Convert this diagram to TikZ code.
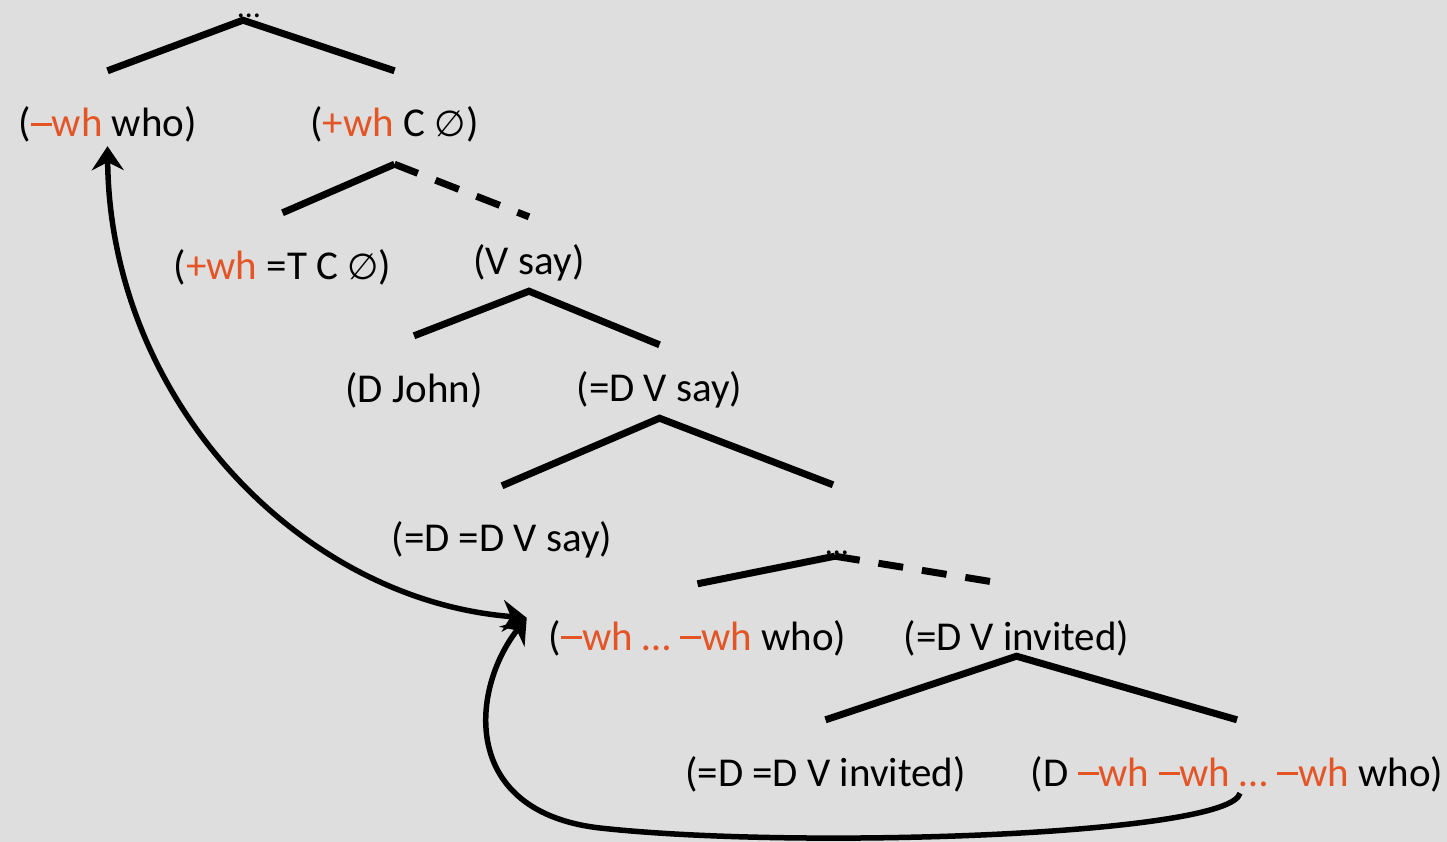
\documentclass[tikz,border=0pt]{standalone}
\usepackage{fontspec}
\setmainfont{Carlito}
\newfontfamily\emptyfam{DejaVu Sans}
\usetikzlibrary{arrows.meta}
\definecolor{whred}{RGB}{228,85,38}
\definecolor{slidebg}{RGB}{222,222,222}
\newcommand{\wh}[1]{\textcolor{whred}{#1}}
\newcommand{\mn}{\rule[11pt]{21pt}{2.6pt}}
\newcommand{\nul}{{\emptyfam\fontsize{36}{40}\selectfont ∅}}

\begin{document}
\begin{tikzpicture}[x=1pt, y=-1pt,
  every node/.style={inner sep=0pt, anchor=base, text height=30pt, text depth=9pt,
    font=\fontsize{41}{48}\selectfont},
  dots/.style={text height=8pt, text depth=0pt, font=\fontsize{32}{36}\selectfont},
  branch/.style={line width=7pt},
  dashbranch/.style={line width=7pt, dash pattern=on 25pt off 19pt},
  move/.style={line width=5.5pt},
  mv/.tip={Stealth[length=24pt,width=32pt,inset=8pt]}]
% background
\useasboundingbox (0,0) rectangle (1447,842);
\fill[slidebg] (0,0) rectangle (1447,842);
% nodes
\node[dots] (dots1) at (249,18) {…};
\node (who1) at (107.5,137) {(\wh{\mn wh} who)};
\node (cwh) at (394.5,137) {(\wh{+wh} C \nul)};
\node (cT) at (282.5,279) {(\wh{+wh} =T C \nul)};
\node (vsay) at (529,274) {(V say)};
\node (john) at (414,402) {(D John)};
\node (dvsay) at (659.5,401) {(=D V say)};
\node (ddvsay) at (502,551) {(=D =D V say)};
\node[dots] (dots2) at (837,554) {…};
\node (whwho) at (697.5,650) {(\wh{\mn wh … \mn wh} who)};
\node (dvinv) at (1016.5,650) {(=D V invited)};
\node (ddvinv) at (825.5,786) {(=D =D V invited)};
\node (dwhwho) at (1237,786) {(D \wh{\mn wh \mn wh … \mn wh} who)};
% branches
\draw[branch] ([yshift=36pt]who1.north) -- ([xshift=-6pt,yshift=-2pt]dots1.south) -- ([yshift=36pt]cwh.north);
\draw[branch] ([yshift=36pt]cT.north) -- ([yshift=-18pt]cwh.south);
\draw[dashbranch] ([yshift=-18pt]cwh.south) -- ([yshift=27pt]vsay.north);
\draw[branch] ([yshift=36pt]john.north) -- ([yshift=-8pt]vsay.south) -- ([yshift=26pt]dvsay.north);
\draw[branch] ([yshift=35pt]ddvsay.north) -- ([yshift=-8pt]dvsay.south) -- ([xshift=-4pt,yshift=61pt]dots2.north);
\draw[branch] ([yshift=36pt]whwho.north) -- ([xshift=-2pt,yshift=-2pt]dots2.south);
\draw[dashbranch] ([xshift=-2pt,yshift=-2pt]dots2.south) -- ([xshift=-18pt,yshift=37pt]dvinv.north);
\draw[branch] ([yshift=36pt]ddvinv.north) -- ([yshift=3pt]dvinv.south) -- ([yshift=36pt]dwhwho.north);
% movement arrows
\coordinate (land) at ([xshift=-22pt,yshift=2pt]whwho.north west);
\draw[move, mv-mv] (land) .. controls (300,600) and (110,400) .. (who1.south);
\draw[move, -mv] ([xshift=3pt,yshift=2pt]dwhwho.south) .. controls (1230,835) and (800,850) .. (600,828)
  .. controls (460,812) and (470,690) .. (land);
\end{tikzpicture}
\end{document}
